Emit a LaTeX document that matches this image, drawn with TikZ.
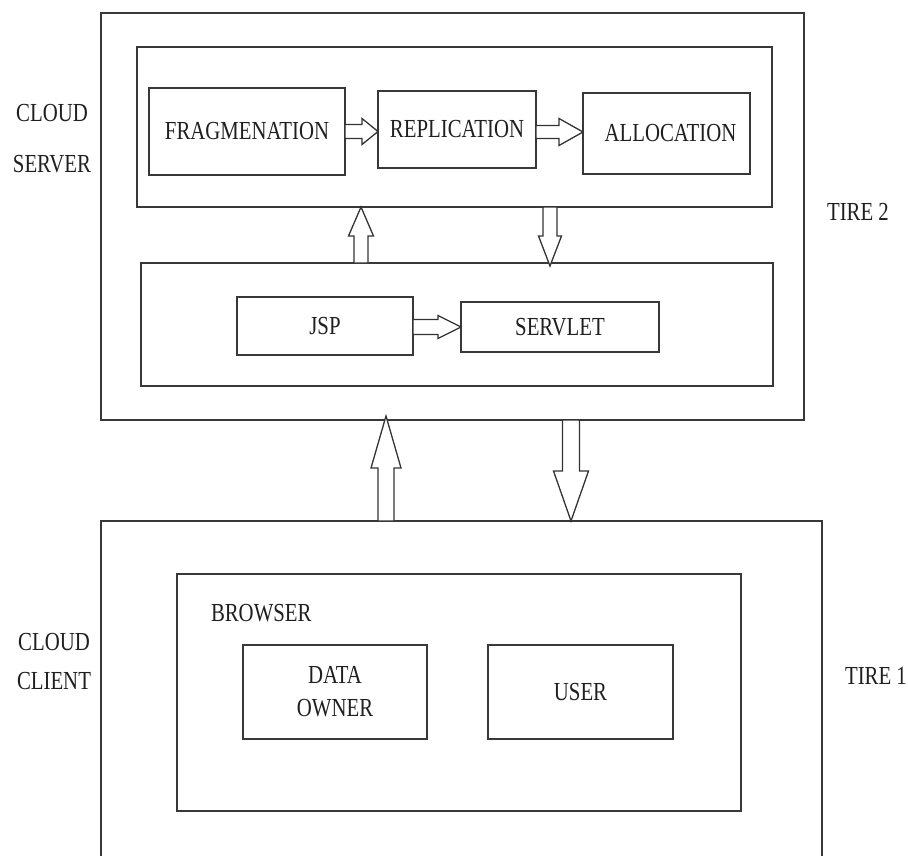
\documentclass[tikz,border=0pt]{standalone}
\usepackage{fontspec}
\setmainfont[FakeStretch=0.8]{Liberation Serif}
\usetikzlibrary{calc}
\newcommand\blockarrow[5]{%
  \coordinate (bah) at ($(#2)!#5!(#1)$);
  \draw[blk] ($(#1)!#3!90:(#2)$) -- ($(bah)!#3!90:(#2)$) -- ($(bah)!#4!90:(#2)$) -- (#2)
    -- ($(bah)!#4!-90:(#2)$) -- ($(bah)!#3!-90:(#2)$) -- ($(#1)!#3!-90:(#2)$) -- cycle;}
\begin{document}
\begin{tikzpicture}[x=1pt,y=-1pt,
  box/.style={draw=black!78, line width=1.6pt, inner sep=0pt, outer sep=0pt,
    anchor=north west, font=\fontsize{26}{30}\selectfont, text=black!88, align=center},
  frame/.style={draw=black!78, line width=1.6pt},
  lbl/.style={inner sep=0pt, outer sep=0pt, align=center, text=black!88},
  blk/.style={draw=black!80, line width=1.3pt, fill=white, line join=miter}]
\useasboundingbox (0,0) rectangle (908,856);
% tier 2
\node[box, minimum width=703pt, minimum height=407pt] (server) at (101,13) {};
\node[box, minimum width=635pt, minimum height=160pt] (top) at (137,47) {};
\node[box, minimum width=632pt, minimum height=123pt] (mid) at (141,263) {};
\node[box, minimum width=196pt, minimum height=87pt] (frag) at (149,88) {FRAGMENATION};
\node[box, minimum width=158pt, minimum height=77pt] (repl) at (378,91) {REPLICATION};
\node[box, minimum width=167pt, minimum height=81pt] (alloc) at (583,93) {\hspace*{8pt}ALLOCATION};
\node[box, minimum width=176pt, minimum height=58pt] (jsp) at (237,297) {JSP};
\node[box, minimum width=198pt, minimum height=50pt] (servlet) at (461,302) {SERVLET};
% tier 1
\draw[frame] (101,857) -- (101,521) coordinate (clnw) -- (822,521) coordinate (clne) -- (822,857);
\node[box, minimum width=564pt, minimum height=237pt] (browser) at (177,574) {};
\node[box, minimum width=184pt, minimum height=94pt, font=\fontsize{26}{33}\selectfont] (owner) at (243,645) {DATA\\OWNER};
\node[box, minimum width=185pt, minimum height=94pt] (user) at (488,645) {USER};
% labels
\node[lbl, font=\fontsize{26}{51}\selectfont] (cs) at (52,139) {CLOUD\\SERVER};
\node[lbl, font=\fontsize{26}{39}\selectfont] (cc) at (54,662) {CLOUD\\CLIENT};
\node[lbl, font=\fontsize{26}{30}\selectfont] (t2) at (858,212) {TIRE 2};
\node[lbl, font=\fontsize{26}{30}\selectfont] (t1) at (876,676) {TIRE 1};
\node[lbl, font=\fontsize{26}{30}\selectfont, anchor=west] (br) at (211,613) {BROWSER};
% helper coordinates
\coordinate (h132) at (0,132);
\coordinate (h327) at (0,327);
\coordinate (v361) at (361,0);
\coordinate (v550) at (550,0);
\coordinate (v386) at (386,0);
\coordinate (v571) at (571,0);
\coordinate (a1s) at (frag.east);
\coordinate (a1e) at (repl.west |- frag.east);
\coordinate (a2s) at (repl.east |- h132);
\coordinate (a2e) at (alloc.west |- h132);
\coordinate (a3s) at (jsp.east |- h327);
\coordinate (a3e) at (servlet.west |- h327);
\coordinate (a4s) at (mid.north -| v361);
\coordinate (a4e) at (top.south -| v361);
\coordinate (a5s) at (top.south -| v550);
\coordinate (a5e) at ($(mid.north -| v550)+(0,3)$);
\coordinate (a6s) at (clnw -| v386);
\coordinate (a6e) at ($(server.south -| v386)+(0,-4)$);
\coordinate (a7s) at (server.south -| v571);
\coordinate (a7e) at (clnw -| v571);
% arrows
\blockarrow{a1s}{a1e}{7pt}{13pt}{16pt}
\blockarrow{a2s}{a2e}{6.5pt}{13.5pt}{24pt}
\blockarrow{a3s}{a3e}{7.5pt}{11.5pt}{23pt}
\blockarrow{a4s}{a4e}{7pt}{12.5pt}{29pt}
\blockarrow{a5s}{a5e}{7pt}{11.5pt}{30pt}
\blockarrow{a6s}{a6e}{8pt}{15pt}{52pt}
\blockarrow{a7s}{a7e}{8.5pt}{17.5pt}{50pt}
\end{tikzpicture}
\end{document}
